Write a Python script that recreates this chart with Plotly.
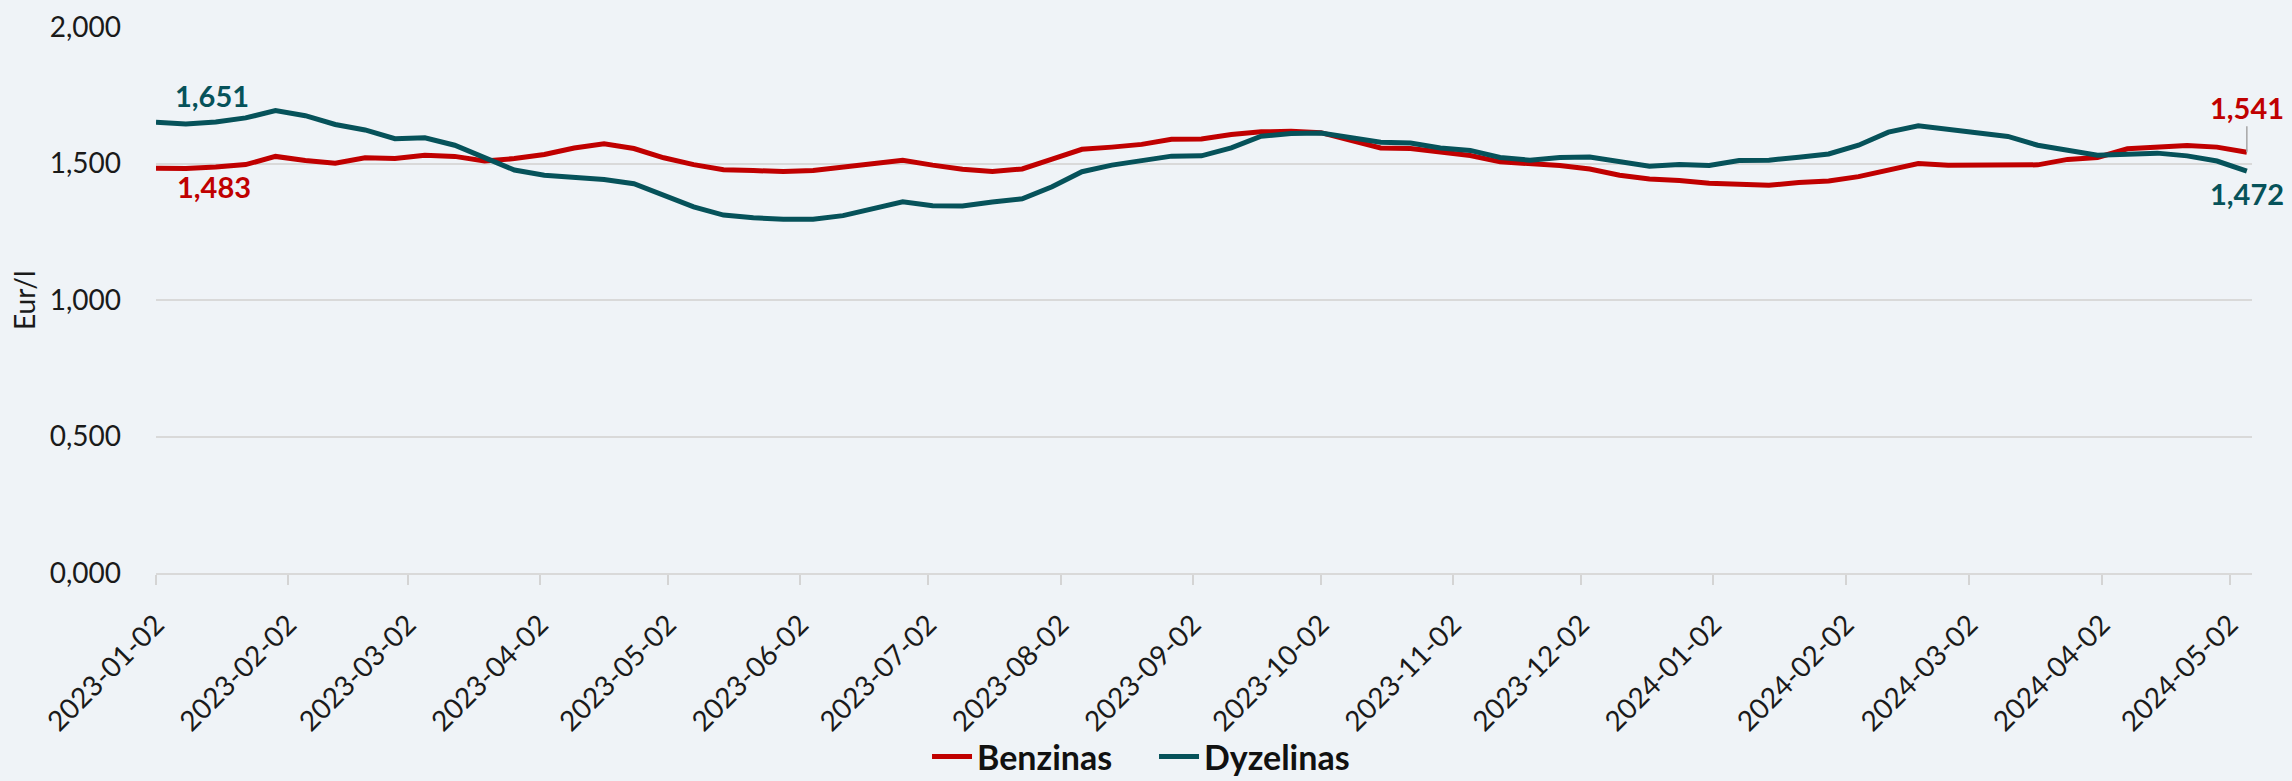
import pandas as pd
import plotly.graph_objects as go

# weekly observation dates (Mondays)
start_date = "2023-01-02"
n_weeks = 71
dates = pd.date_range(start_date, periods=n_weeks, freq="7D")

benzinas = [1.483, 1.482, 1.487, 1.496, 1.526, 1.511, 1.501, 1.521, 1.518, 1.530,
            1.526, 1.509, 1.518, 1.533, 1.557, 1.572, 1.555, 1.521, 1.496, 1.477,
            1.474, 1.471, 1.474, 1.488, 1.502, 1.512, 1.494, 1.479, 1.471, 1.480,
            1.516, 1.552, 1.560, 1.570, 1.589, 1.590, 1.606, 1.616, 1.618, 1.613,
            1.585, 1.557, 1.555, 1.543, 1.529, 1.506, 1.501, 1.493, 1.480, 1.457,
            1.443, 1.438, 1.428, 1.424, 1.420, 1.430, 1.436, 1.452, 1.478, 1.500,
            1.494, 1.494, 1.496, 1.495, 1.515, 1.522, 1.554, 1.561, 1.566, 1.560,
            1.541]

dyzelinas = [1.651, 1.645, 1.652, 1.667, 1.694, 1.675, 1.643, 1.623, 1.591, 1.594,
             1.567, 1.523, 1.476, 1.457, 1.448, 1.441, 1.426, 1.384, 1.341, 1.311,
             1.301, 1.296, 1.296, 1.309, 1.333, 1.360, 1.345, 1.344, 1.359, 1.371,
             1.415, 1.470, 1.494, 1.509, 1.527, 1.528, 1.557, 1.600, 1.610, 1.612,
             1.595, 1.578, 1.575, 1.557, 1.548, 1.522, 1.512, 1.522, 1.524, 1.506,
             1.490, 1.496, 1.493, 1.511, 1.512, 1.523, 1.535, 1.567, 1.615, 1.638,
             1.624, 1.610, 1.599, 1.567, 1.549, 1.530, 1.534, 1.538, 1.528, 1.509,
             1.472]

series_names = ["Benzinas", "Dyzelinas"]
colors = ["#C00000", "#06525A"]
y_ticks = [0, 0.5, 1.0, 1.5, 2.0]
y_title = "Eur/l"

BG = "#EFF3F7"
FONT = "Lato"
TXT = "#1A1A1A"


def fmt(v):
    return f"{v:.3f}".replace(".", ",")


fig = go.Figure()
for name, vals, col in zip(series_names, [benzinas, dyzelinas], colors):
    fig.add_trace(go.Scatter(x=dates, y=vals, mode="lines", name=name,
                             line=dict(color=col, width=5)))

lab_font = lambda c: dict(family=FONT, size=29, color=c, weight="bold")

annotations = [
    dict(x=dates[0], y=dyzelinas[0], text=fmt(dyzelinas[0]), showarrow=False,
         xshift=56, yshift=27, font=lab_font(colors[1])),
    dict(x=dates[0], y=benzinas[0], text=fmt(benzinas[0]), showarrow=False,
         xshift=58, yshift=-18, font=lab_font(colors[0])),
    dict(x=dates[-1], y=benzinas[-1], text=fmt(benzinas[-1]), showarrow=True,
         ax=0, ay=-45, arrowhead=0, arrowwidth=1.5, arrowcolor="#A6A6A6",
         font=lab_font(colors[0])),
    dict(x=dates[-1], y=dyzelinas[-1], text=fmt(dyzelinas[-1]), showarrow=False,
         yshift=-22, font=lab_font(colors[1])),
    dict(xref="paper", yref="paper", x=-0.063, y=0.5, text=y_title, showarrow=False,
         textangle=-90, xanchor="center", yanchor="middle",
         font=dict(family=FONT, size=28, color=TXT)),
]

fig.update_layout(
    width=2292, height=781,
    paper_bgcolor=BG, plot_bgcolor=BG,
    margin=dict(l=155.6, r=39.5, t=26.7, b=207.7, autoexpand=False),
    separators=",.",
    font=dict(family=FONT, size=28, color=TXT),
    showlegend=True,
    legend=dict(orientation="h", xref="container", yref="container",
                x=0.5035, xanchor="center", y=0.031, yanchor="middle",
                font=dict(family=FONT, size=34, color="#111111", weight="bold"),
                bgcolor="rgba(0,0,0,0)", itemwidth=40,
                entrywidth=172, entrywidthmode="pixels"),
    annotations=annotations,
)

fig.update_xaxes(
    type="date", automargin=False,
    range=["2023-01-02", "2024-05-07 05:00"],
    tick0="2023-01-02", dtick="M1", tickformat="%Y-%m-%d",
    tickangle=-45, ticks="outside", ticklen=10, tickwidth=2, tickcolor="#D4D4D4",
    ticklabelstandoff=12,
    showline=True, linecolor="#D9D9D9", linewidth=2,
    showgrid=False, zeroline=False,
    tickfont=dict(family=FONT, size=28, color=TXT),
)
fig.update_yaxes(
    range=[0, 2], tickvals=y_ticks, tickformat=".3f", automargin=False,
    showgrid=True, gridcolor="#D9D9D9", gridwidth=2,
    zeroline=False, showline=False, ticks="", ticklabelstandoff=34,
    tickfont=dict(family=FONT, size=28, color=TXT),
)

fig.write_html(
    "out.html",
    config={"displayModeBar": False},
    post_script="document.body.style.margin='0';document.body.style.overflow='hidden';"
                "document.body.style.background='" + BG + "';",
)
